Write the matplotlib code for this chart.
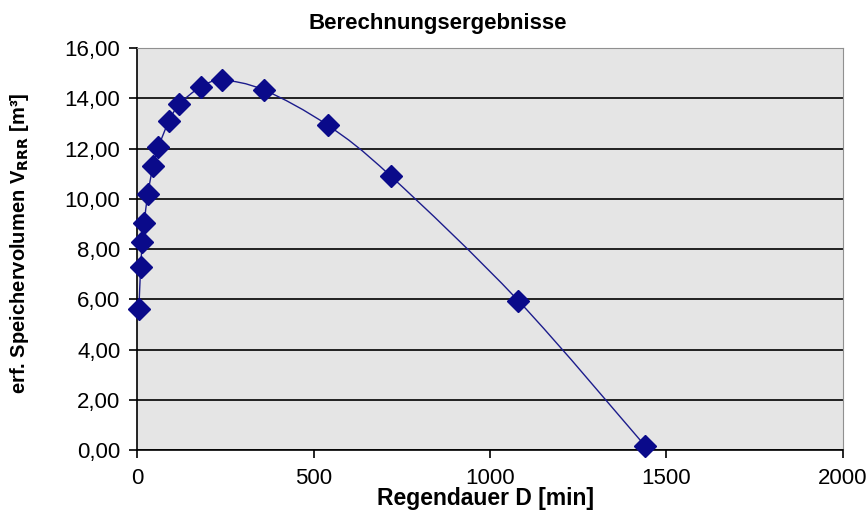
import numpy as np
import matplotlib.pyplot as plt
from matplotlib.path import Path
from matplotlib.patches import PathPatch
from matplotlib.ticker import FuncFormatter

plt.rcParams['font.family'] = ['Liberation Sans', 'DejaVu Sans']

# Regendauer D [min] und erforderliches Speichervolumen [m³]
dauer = [5, 10, 15, 20, 30, 45, 60, 90, 120, 180, 240, 360, 540, 720, 1080, 1440]
volumen = [5.63, 7.30, 8.30, 9.02, 10.18, 11.29, 12.05, 13.09, 13.77, 14.45,
           14.72, 14.33, 12.93, 10.89, 5.95, 0.16]

fig = plt.figure(figsize=(8.68, 5.12), dpi=100)
ax = fig.add_axes([0.158, 0.121, 0.813, 0.785])
ax.set_facecolor('#e5e5e5')


def smooth_path(xs, ys, ax):
    # Catmull-Rom durch die Punkte, als Bezier-Segmente in Pixelkoordinaten
    pts = ax.transData.transform(np.column_stack([xs, ys]))
    verts = [pts[0]]
    codes = [Path.MOVETO]
    n = len(pts)
    for i in range(n - 1):
        p0 = pts[i - 1] if i > 0 else pts[i]
        p1 = pts[i]
        p2 = pts[i + 1]
        p3 = pts[i + 2] if i + 2 < n else pts[i + 1]
        c1 = p1 + (p2 - p0) / 6.0
        c2 = p2 - (p3 - p1) / 6.0
        verts += [c1, c2, p2]
        codes += [Path.CURVE4] * 3
    return Path(verts, codes)


ax.set_xlim(0, 2000)
ax.set_ylim(0, 16)
ax.set_xticks([0, 500, 1000, 1500, 2000])
ax.set_yticks(np.arange(0, 17, 2))
ax.yaxis.set_major_formatter(FuncFormatter(lambda v, p: f'{v:.2f}'.replace('.', ',')))

ax.grid(axis='y', color='black', linewidth=1.2)
ax.set_axisbelow(True)

for side in ['top', 'right']:
    ax.spines[side].set_color('#909090')
    ax.spines[side].set_linewidth(0.8)
for side in ['left', 'bottom']:
    ax.spines[side].set_color('black')
    ax.spines[side].set_linewidth(1.2)

ax.tick_params(axis='both', direction='out', length=6, width=1.2, labelsize=16, colors='black')
ax.tick_params(axis='x', pad=7)
ax.tick_params(axis='y', pad=6)

fig.canvas.draw()
patch = PathPatch(smooth_path(dauer, volumen, ax), transform=None,
                  facecolor='none', edgecolor='#1c1c8c', linewidth=1.0, zorder=3)
ax.add_artist(patch)
ax.plot(dauer, volumen, linestyle='none', marker='D', markersize=11,
        color='#0a0a8a', markeredgecolor='#0a0a8a', zorder=4, clip_on=False)

ax.set_title('Berechnungsergebnisse', fontsize=16, fontweight='bold', x=0.426, pad=14)
ax.set_xlabel('Regendauer D [min]', fontsize=16.5, fontweight='bold')
ax.xaxis.set_label_coords(0.493, -0.093)
ax.set_ylabel('erf. Speichervolumen V$_{\\mathbf{RRR}}$ [m³]', fontsize=14.5,
              fontweight='bold')
ax.yaxis.set_label_coords(-0.150, 0.515)

fig.savefig('out.png', dpi=100)
